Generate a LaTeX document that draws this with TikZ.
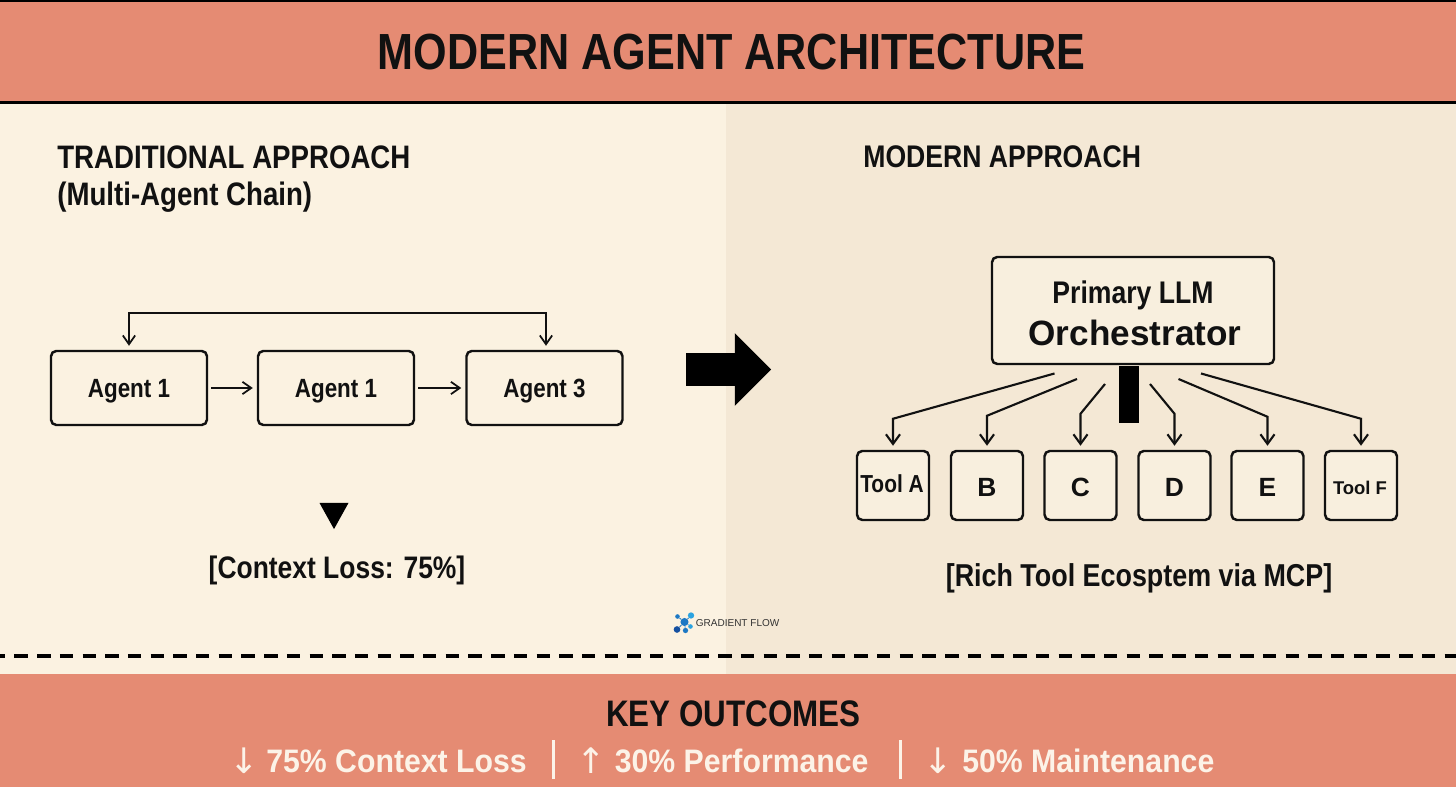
\documentclass[tikz,border=0pt]{standalone}
\usepackage{fontspec}
\setmainfont{Liberation Sans}[FakeStretch=0.85]
\newfontfamily\widefont{Liberation Sans}
\newfontfamily\outfont{Liberation Sans}[FakeStretch=0.93]
\newfontfamily\arrowfont{DejaVu Sans}
\usetikzlibrary{arrows.meta, calc, shapes.geometric, shapes.arrows}
\definecolor{colband}{HTML}{E58B73}
\definecolor{colleft}{HTML}{FBF2E1}
\definecolor{colright}{HTML}{F4E8D5}
\definecolor{colbox}{HTML}{F8EFDE}
\definecolor{colink}{HTML}{111111}
\definecolor{colwhite}{HTML}{FCF3E8}
\definecolor{collogo}{HTML}{1C78C4}
\definecolor{collogodark}{HTML}{1450A0}
\definecolor{collogolight}{HTML}{2BA3E0}
\tikzset{
    box node/.style={
        draw=colink, line width=1.4pt, rounded corners=3pt, align=center,
        font=\bfseries, inner sep=0pt, text=colink,
    },
    agent/.style={box node, fill=colleft, minimum width=3.12cm, minimum height=1.48cm,
        text height=0.42cm, text depth=0.02cm,
        font=\fontsize{15}{18}\selectfont\bfseries},
    primary/.style={box node, fill=colbox, minimum width=5.64cm, minimum height=2.14cm},
    toolbox/.style={box node, fill=colbox, minimum width=1.44cm, minimum height=1.38cm},
    tool letter/.style={text height=0.46cm, text depth=0cm,
        font=\widefont\fontsize{15}{18}\selectfont\bfseries},
    heading/.style={font=\fontsize{18.5}{22}\selectfont\bfseries, text=colink, anchor=west, inner sep=0pt},
    caption/.style={font=\fontsize{18}{22}\selectfont\bfseries, text=colink, inner sep=0pt},
    title text/.style={font=\fontsize{28.9}{34}\selectfont\bfseries, text=colink, inner sep=0pt},
    outcome/.style={font=\outfont\fontsize{18.5}{22}\selectfont\bfseries, text=colwhite, anchor=west, inner sep=0pt},
    outcome arrow/.style={font=\arrowfont\fontsize{20}{22}\selectfont, text=colwhite, anchor=west, inner sep=0pt},
    outcome bar/.style={fill=colwhite, inner sep=0pt, minimum width=1.3pt, minimum height=0.78cm},
    flow edge/.style={-{Straight Barb[length=5pt, width=7pt]}, line width=1pt, draw=colink},
    tool edge/.style={-{Straight Barb[length=5.5pt, width=8pt]}, line width=1.2pt, draw=colink,
        shorten >=0.08cm},
    dash rule/.style={draw=black, line width=2.6pt, dash pattern=on 0.268cm off 0.186cm, dash phase=0.166cm},
    logo dot/.style={circle, fill=collogo, inner sep=0pt, minimum size=3.2pt},
    logo edge/.style={draw=collogo, line width=0.5pt},
}
\begin{document}
\begin{tikzpicture}

\useasboundingbox (0, 0) rectangle (29.12, 15.74);

% ===== PANELS =====
\fill[colleft] (0, 2.26) rectangle (14.52, 13.69);
\fill[colright] (14.52, 2.26) rectangle (29.12, 13.69);
\fill[colband] (0, 13.69) rectangle (29.12, 15.74);
\fill[colband] (0, 0) rectangle (29.12, 2.26);
\draw[black, line width=1.4pt] (0, 15.73) -- (29.12, 15.73);
\draw[black, line width=1.4pt] (0, 13.69) -- (29.12, 13.69);
\draw[dash rule] (0, 2.62) -- (29.12, 2.62);

% ===== HEADINGS =====
\node[title text] (title) at (14.63, 14.70) {MODERN AGENT ARCHITECTURE};
\node[heading] (tradhead) at (1.14, 12.60) {TRADITIONAL APPROACH};
\node[heading] (tradsub) at (1.14, 11.80) {(Multi-Agent Chain)};
\node[heading, font=\fontsize{17.8}{22}\selectfont\bfseries] (modhead) at (17.26, 12.60) {MODERN APPROACH};

% ===== LEFT NODES =====
\node[agent] (agentA) at (2.58, 7.98) {Agent 1};
\node[agent] (agentB) at (6.72, 7.98) {Agent 1};
\node[agent] (agentC) at (10.89, 7.98) {Agent 3};
\node[isosceles triangle, isosceles triangle apex angle=58, shape border rotate=-90,
      fill=black, inner sep=0pt, minimum height=0.52cm, minimum width=0.58cm] (lossmark) at (6.68, 5.51) {};
\node[caption, font=\fontsize{17.7}{22}\selectfont\bfseries] (losstext) at (6.74, 4.33) {[Context Loss: 75\%]};

% ===== CENTRE ARROW =====
\node[single arrow, fill=black, inner xsep=0pt, inner ysep=0.32cm, minimum width=1.44cm, minimum height=1.70cm,
      single arrow head extend=0.40cm, single arrow tip angle=90] (bigarrow) at (14.41, 8.35) {};

% ===== RIGHT NODES =====
\node[primary] (llm) at (22.66, 9.53)
    {{\rule{0pt}{16pt}\fontsize{17.8}{20}\selectfont Primary LLM}\\[5pt]{\hspace*{0.08cm}\widefont\fontsize{20}{22}\selectfont Orchestrator}};
\node[fill=black, inner sep=0pt, minimum width=0.39cm, minimum height=1.14cm, anchor=north] (stem) at ([xshift=-0.08cm]llm.south) {};
\node[toolbox] (toolA) at (17.86, 6.03) {};
\node[toolbox, tool letter] (toolB) at (19.74, 6.03) {B};
\node[toolbox, tool letter] (toolC) at (21.61, 6.03) {C};
\node[toolbox, tool letter] (toolD) at (23.49, 6.03) {D};
\node[toolbox, tool letter] (toolE) at (25.35, 6.03) {E};
\node[toolbox] (toolF) at (27.22, 6.03) {};
\node[font=\fontsize{14}{16}\selectfont\bfseries, text=colink, inner sep=0pt] (labelA) at (17.84, 6.06) {Tool A};
\node[font=\widefont\fontsize{10.5}{13}\selectfont\bfseries, text=colink, inner sep=0pt] (labelF) at (27.20, 5.99) {Tool F};
\node[caption] (richtext) at (22.78, 4.18) {[Rich Tool Ecosptem via MCP]};

% ===== EDGE STARTS =====
\coordinate (tapA) at (21.09, 8.27);
\coordinate (tapB) at (21.54, 8.16);
\coordinate (tapC) at (22.10, 8.06);
\coordinate (tapD) at (23.00, 8.06);
\coordinate (tapE) at (23.57, 8.16);
\coordinate (tapF) at (24.02, 8.27);

% ===== EDGES =====
\draw[flow edge, shorten >=0.08cm, shorten <=0.06cm] (agentA) -- (agentB);
\draw[flow edge, shorten >=0.08cm, shorten <=0.06cm] (agentB) -- (agentC);
\draw[flow edge, {Straight Barb[length=5pt, width=7pt]}-{Straight Barb[length=5pt, width=7pt]}, shorten >=0.08cm, shorten <=0.08cm]
    (agentA.north) -- ++(0, 0.74) -| ([xshift=0.03cm]agentC.north);
\draw[tool edge] (tapA) -- ($(toolA.north)+(0, 0.62)$) -- (toolA.north);
\draw[tool edge] (tapB) -- ($(toolB.north)+(0, 0.68)$) -- (toolB.north);
\draw[tool edge] (tapC) -- ($(toolC.north)+(0, 0.72)$) -- (toolC.north);
\draw[tool edge] (tapD) -- ($(toolD.north)+(0, 0.72)$) -- (toolD.north);
\draw[tool edge] (tapE) -- ($(toolE.north)+(0, 0.66)$) -- (toolE.north);
\draw[tool edge] (tapF) -- ($(toolF.north)+(0, 0.62)$) -- (toolF.north);

% ===== LOGO =====
\node[logo dot, minimum size=4.6pt] (hub) at (13.69, 3.30) {};
\node[logo dot, fill=collogolight, minimum size=3.6pt] (dotA) at (13.82, 3.43) {};
\node[logo dot, minimum size=2.6pt] (dotB) at (13.55, 3.41) {};
\node[logo dot, fill=collogodark, minimum size=3.8pt] (dotC) at (13.54, 3.15) {};
\node[logo dot, minimum size=3pt] (dotD) at (13.71, 3.13) {};
\node[logo dot, fill=collogolight, minimum size=2.6pt] (dotE) at (13.81, 3.21) {};
\draw[logo edge] (hub) -- (dotA);
\draw[logo edge] (hub) -- (dotB);
\draw[logo edge] (hub) -- (dotC);
\draw[logo edge] (hub) -- (dotD);
\draw[logo edge] (hub) -- (dotE);
\node[font=\widefont\fontsize{5.7}{7}\selectfont, text=black!80, anchor=west, inner sep=0pt] (logotext) at (13.91, 3.27) {GRADIENT FLOW};

% ===== OUTCOMES =====
\node[font=\fontsize{21}{24}\selectfont\bfseries, text=colink, inner sep=0pt] (keyhead) at (14.67, 1.46) {KEY OUTCOMES};
\node[outcome arrow] (lossarrow) at (4.58, 0.52) {↓};
\node[outcome] (lossout) at (5.32, 0.52) {75\% Context Loss};
\node[outcome bar] (barA) at (11.07, 0.54) {};
\node[outcome arrow] (perfarrow) at (11.52, 0.52) {↑};
\node[outcome] (perfout) at (12.29, 0.52) {30\% Performance};
\node[outcome bar] (barB) at (18.01, 0.54) {};
\node[outcome arrow] (maintarrow) at (18.46, 0.52) {↓};
\node[outcome] (maintout) at (19.24, 0.52) {50\% Maintenance};

\end{tikzpicture}
\end{document}
